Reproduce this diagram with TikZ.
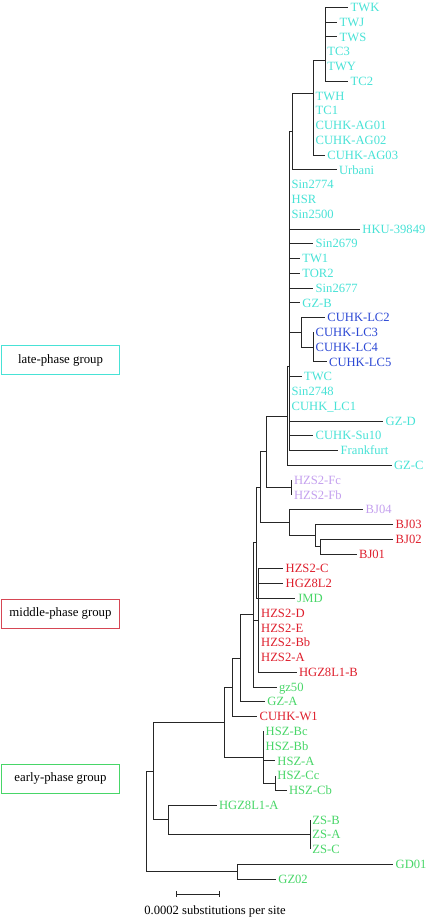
\documentclass[tikz,border=0pt]{standalone}
\usepackage{fontspec}
\setmainfont{Liberation Serif}
\definecolor{latecol}{RGB}{72,226,214}
\definecolor{lccol}{RGB}{44,72,212}
\definecolor{purcol}{RGB}{196,160,238}
\definecolor{redcol}{RGB}{222,30,44}
\definecolor{grncol}{RGB}{72,214,104}
\definecolor{midbox}{RGB}{214,70,84}
\newcommand{\leaf}[5]{\coordinate (e#1) at (#2,#3); \node[lab, text=#4] (n#1) at (e#1) {#5};}
\begin{document}
\begin{tikzpicture}[x=1pt,y=-1pt,
  br/.style={draw=black!85, line width=0.85pt},
  lab/.style={anchor=base west, inner sep=0pt, xshift=2.2pt, yshift=-4.2pt, font=\fontsize{12.6}{14}\selectfont},
  grpbox/.style={draw, line width=0.85pt, minimum width=118.5pt, minimum height=29.5pt, inner sep=0pt, font=\fontsize{12.8}{14}\selectfont, text=black}]
\useasboundingbox (0,0) rectangle (427,918);

% internal nodes
\coordinate (K) at (325,60);
\coordinate (P) at (313.3,93.3);
\coordinate (Q) at (292.7,131.7);
\coordinate (R) at (289.3,366.7);
\coordinate (L1) at (301.7,332.3);
\coordinate (L2) at (313.3,347.1);
\coordinate (Z) at (287.3,416.0);
\coordinate (FF) at (291.7,487.5);
\coordinate (Y) at (266.7,451.75);
\coordinate (BJ) at (289.3,522.6);
\coordinate (BJb) at (315,535.5);
\coordinate (BJc) at (320.7,546.6);
\coordinate (X) at (260,487.2);
\coordinate (G) at (256.7,542.75);
\coordinate (H) at (258.8,620.5);
\coordinate (F) at (253.3,614.85);
\coordinate (E) at (240.7,658.3);
\coordinate (D) at (232.7,687.4);
\coordinate (HS) at (263.3,757.1);
\coordinate (HC) at (275,783);
\coordinate (C) at (224.3,722.3);
\coordinate (ZS) at (310,834.7);
\coordinate (B) at (168.3,819.9);
\coordinate (A) at (153.3,771.1);
\coordinate (GG) at (237.3,871.6);
\coordinate (root) at (146.7,821.5);

% leaves
\leaf{1}{348.3}{7.3}{latecol}{TWK}
\leaf{2}{337.3}{22.08}{latecol}{TWJ}
\leaf{3}{337.3}{36.85}{latecol}{TWS}
\leaf{4}{325}{51.63}{latecol}{TC3}
\leaf{5}{325}{66.40}{latecol}{TWY}
\leaf{6}{348.3}{81.18}{latecol}{TC2}
\leaf{7}{313.3}{95.95}{latecol}{TWH}
\leaf{8}{313.3}{110.73}{latecol}{TC1}
\leaf{9}{313.3}{125.5}{latecol}{CUHK-AG01}
\leaf{10}{313.3}{140.28}{latecol}{CUHK-AG02}
\leaf{11}{325}{155.05}{latecol}{CUHK-AG03}
\leaf{12}{336.7}{169.83}{latecol}{Urbani}
\leaf{13}{289.3}{184.6}{latecol}{Sin2774}
\leaf{14}{289.3}{199.38}{latecol}{HSR}
\leaf{15}{289.3}{214.15}{latecol}{Sin2500}
\leaf{16}{360}{228.93}{latecol}{HKU-39849}
\leaf{17}{313.3}{243.7}{latecol}{Sin2679}
\leaf{18}{300}{258.48}{latecol}{TW1}
\leaf{19}{300}{273.25}{latecol}{TOR2}
\leaf{20}{313.3}{288.03}{latecol}{Sin2677}
\leaf{21}{300}{302.8}{latecol}{GZ-B}
\leaf{22}{325}{317.58}{lccol}{CUHK-LC2}
\leaf{23}{313.3}{332.35}{lccol}{CUHK-LC3}
\leaf{24}{313.3}{347.13}{lccol}{CUHK-LC4}
\leaf{25}{326.7}{361.9}{lccol}{CUHK-LC5}
\leaf{26}{301.7}{376.68}{latecol}{TWC}
\leaf{27}{289.3}{391.45}{latecol}{Sin2748}
\leaf{28}{289.3}{406.23}{latecol}{CUHK\_LC1}
\leaf{29}{383.3}{421}{latecol}{GZ-D}
\leaf{30}{313.3}{435.78}{latecol}{CUHK-Su10}
\leaf{31}{338.3}{450.55}{latecol}{Frankfurt}
\leaf{32}{391.7}{465.33}{latecol}{GZ-C}
\leaf{33}{291.7}{480.1}{purcol}{HZS2-Fc}
\leaf{34}{291.7}{494.88}{purcol}{HZS2-Fb}
\leaf{35}{363.3}{509.65}{purcol}{BJ04}
\leaf{36}{393.3}{524.43}{redcol}{BJ03}
\leaf{37}{393.3}{539.2}{redcol}{BJ02}
\leaf{38}{356.7}{553.98}{redcol}{BJ01}
\leaf{39}{283.3}{568.75}{redcol}{HZS2-C}
\leaf{40}{283.3}{583.53}{redcol}{HGZ8L2}
\leaf{41}{295}{598.3}{grncol}{JMD}
\leaf{42}{258.8}{613.08}{redcol}{HZS2-D}
\leaf{43}{258.8}{627.85}{redcol}{HZS2-E}
\leaf{44}{258.8}{642.63}{redcol}{HZS2-Bb}
\leaf{45}{258.8}{657.4}{redcol}{HZS2-A}
\leaf{46}{296.7}{672.18}{redcol}{HGZ8L1-B}
\leaf{47}{276.7}{686.95}{grncol}{gz50}
\leaf{48}{265}{701.73}{grncol}{GZ-A}
\leaf{49}{257.3}{716.5}{redcol}{CUHK-W1}
\leaf{50}{263.3}{731.28}{grncol}{HSZ-Bc}
\leaf{51}{263.3}{746.05}{grncol}{HSZ-Bb}
\leaf{52}{275}{760.83}{grncol}{HSZ-A}
\leaf{53}{275}{775.6}{grncol}{HSZ-Cc}
\leaf{54}{286.7}{790.38}{grncol}{HSZ-Cb}
\leaf{55}{216.7}{805.15}{grncol}{HGZ8L1-A}
\leaf{56}{310}{819.93}{grncol}{ZS-B}
\leaf{57}{310}{834.7}{grncol}{ZS-A}
\leaf{58}{310}{849.48}{grncol}{ZS-C}
\leaf{59}{393.3}{864.25}{grncol}{GD01}
\leaf{60}{276}{879.03}{grncol}{GZ02}

% leaf branches
\foreach \i in {1,...,6} {\draw[br] (K) |- (e\i);}
\foreach \i in {7,...,11} {\draw[br] (P) |- (e\i);}
\draw[br] (Q) |- (e12);
\foreach \i in {13,...,21,26,27,28,29,30,31} {\draw[br] (R) |- (e\i);}
\draw[br] (L1) |- (e22);
\foreach \i in {23,24,25} {\draw[br] (L2) |- (e\i);}
\draw[br] (Z) |- (e32);
\foreach \i in {33,34} {\draw[br] (FF) |- (e\i);}
\draw[br] (BJ) |- (e35);
\draw[br] (BJb) |- (e36);
\foreach \i in {37,38} {\draw[br] (BJc) |- (e\i);}
\foreach \i in {39,40,42,43,44,45,46} {\draw[br] (H) |- (e\i);}
\draw[br] (G) |- (e41);
\draw[br] (F) |- (e47);
\draw[br] (E) |- (e48);
\draw[br] (D) |- (e49);
\foreach \i in {50,51,52} {\draw[br] (HS) |- (e\i);}
\foreach \i in {53,54} {\draw[br] (HC) |- (e\i);}
\draw[br] (B) |- (e55);
\foreach \i in {56,57,58} {\draw[br] (ZS) |- (e\i);}
\foreach \i in {59,60} {\draw[br] (GG) |- (e\i);}

% internal branches
\draw[br] (P) |- (K);
\draw[br] (Q) |- (P);
\draw[br] (R) |- (Q);
\draw[br] (R) |- (L1);
\draw[br] (L1) |- (L2);
\draw[br] (Z) |- (R);
\draw[br] (Y) |- (Z);
\draw[br] (Y) |- (FF);
\draw[br] (X) |- (Y);
\draw[br] (X) |- (BJ);
\draw[br] (BJ) |- (BJb);
\draw[br] (BJb) |- (BJc);
\draw[br] (G) |- (X);
\draw[br] (F) |- (G);
\draw[br] (F) |- (H);
\draw[br] (E) |- (F);
\draw[br] (D) |- (E);
\draw[br] (C) |- (D);
\draw[br] (C) |- (HS);
\draw[br] (HS) |- (HC);
\draw[br] (A) |- (C);
\draw[br] (A) |- (B);
\draw[br] (B) |- (ZS);
\draw[br] (root) |- (A);
\draw[br] (root) |- (GG);

% group boxes
\node[grpbox, draw=latecol] (late) at (60.5,360) {late-phase group};
\node[grpbox, draw=midbox] (middle) at (60.5,613.8) {middle-phase group};
\node[grpbox, draw=grncol] (early) at (60.5,778.7) {early-phase group};

% scale bar
\coordinate (sb1) at (176.7,894);
\coordinate (sb2) at (219.3,894);
\draw[br] (sb1) -- (sb2);
\draw[br] ([yshift=2.6pt]sb1) -- ([yshift=-2.6pt]sb1);
\draw[br] ([yshift=2.6pt]sb2) -- ([yshift=-2.6pt]sb2);
\node[anchor=base, inner sep=0pt, font=\fontsize{12.6}{14}\selectfont] (sbl) at (215,914) {0.0002 substitutions per site};
\end{tikzpicture}
\end{document}
